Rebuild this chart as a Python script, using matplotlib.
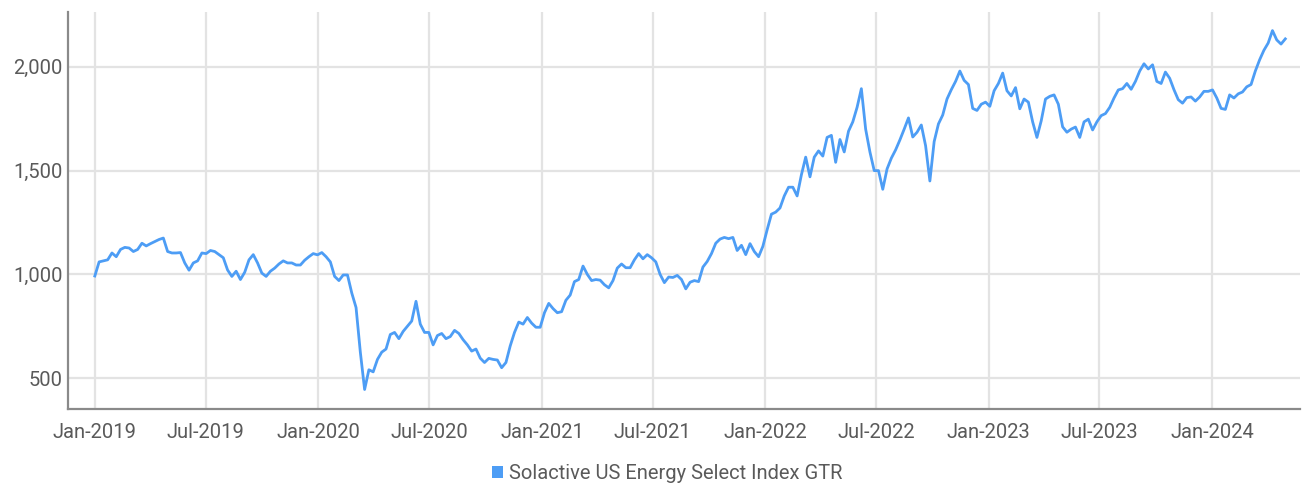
import matplotlib
matplotlib.use("Agg")
import matplotlib.pyplot as plt
import matplotlib.dates as mdates
from matplotlib.patches import Patch
from matplotlib.ticker import FuncFormatter
import pandas as pd

series_name = "Solactive US Energy Select Index GTR"
start_date = "2019-01-01"
values = [
    992, 1060, 1065, 1070, 1103, 1085, 1120, 1130, 1127, 1110,
    1120, 1150, 1137, 1148, 1158, 1168, 1175, 1110, 1103, 1103,
    1105, 1055, 1020, 1055, 1065, 1103, 1100, 1115, 1110, 1095,
    1080, 1021, 990, 1015, 975, 1010, 1070, 1095, 1055, 1006,
    990, 1015, 1030, 1050, 1065, 1055, 1055, 1045, 1045, 1068,
    1085, 1100, 1094, 1105, 1085, 1060, 990, 970, 997, 997,
    910, 840, 625, 445, 540, 530, 590, 625, 640, 710,
    720, 690, 725, 750, 775, 870, 760, 720, 720, 660,
    705, 715, 690, 700, 730, 715, 685, 660, 630, 640,
    596, 575, 595, 590, 587, 550, 575, 655, 720, 770,
    760, 792, 765, 745, 745, 815, 860, 835, 815, 820,
    875, 900, 965, 975, 1040, 1000, 970, 975, 972, 950,
    935, 970, 1030, 1050, 1032, 1032, 1070, 1100, 1075, 1095,
    1080, 1060, 1000, 960, 987, 985, 995, 975, 930, 962,
    970, 965, 1035, 1062, 1100, 1150, 1170, 1178, 1172, 1178,
    1115, 1140, 1095, 1148, 1110, 1085, 1135, 1215, 1290, 1300,
    1320, 1378, 1420, 1420, 1378, 1480, 1565, 1470, 1565, 1595,
    1570, 1660, 1670, 1540, 1650, 1590, 1690, 1735, 1805, 1895,
    1700, 1590, 1500, 1500, 1410, 1508, 1560, 1600, 1648, 1700,
    1754, 1662, 1685, 1720, 1620, 1450, 1640, 1725, 1768, 1845,
    1890, 1930, 1980, 1935, 1915, 1800, 1790, 1820, 1830, 1810,
    1885, 1920, 1970, 1885, 1860, 1900, 1798, 1845, 1830, 1735,
    1660, 1740, 1845, 1858, 1865, 1820, 1711, 1685, 1700, 1710,
    1660, 1735, 1748, 1696, 1735, 1765, 1775, 1805, 1850, 1889,
    1895, 1920, 1892, 1930, 1980, 2015, 1990, 2010, 1930, 1920,
    1975, 1945, 1890, 1842, 1825, 1852, 1855, 1835, 1855, 1882,
    1882, 1889, 1850, 1800, 1795, 1865, 1850, 1870, 1879, 1904,
    1915, 1980, 2034, 2080, 2115, 2175, 2130, 2110, 2135,
]
y_ticks = [500, 1000, 1500, 2000]
x_tick_dates = ["2019-01-01", "2019-07-01", "2020-01-01", "2020-07-01", "2021-01-01",
                "2021-07-01", "2022-01-01", "2022-07-01", "2023-01-01", "2023-07-01",
                "2024-01-01"]

dates = pd.date_range(start_date, periods=len(values), freq="7D")

plt.rcParams['font.family'] = ['Roboto', 'DejaVu Sans']
line_color = "#4d9df5"
text_color = "#5a5a5a"
fs = 14.5

fig = plt.figure(figsize=(13.06, 4.96), dpi=100)
ax = fig.add_axes([0.052, 0.175, 0.9434, 0.801])
ax.plot(dates, values, color=line_color, linewidth=2.0, zorder=3)

ax.set_xlim(pd.Timestamp("2018-11-18"), pd.Timestamp("2024-05-24"))
ax.set_ylim(350, 2265)
ax.set_yticks(y_ticks)
ax.yaxis.set_major_formatter(FuncFormatter(lambda v, p: f"{int(v):,}"))
ax.set_xticks([pd.Timestamp(d) for d in x_tick_dates])
ax.xaxis.set_major_formatter(mdates.DateFormatter("%b-%Y"))

ax.grid(True, color="#e3e3e3", linewidth=1.6, zorder=0)
ax.set_axisbelow(True)
for s in ["top", "right"]:
    ax.spines[s].set_visible(False)
for s in ["left", "bottom"]:
    ax.spines[s].set_color("#8a8a8a")
    ax.spines[s].set_linewidth(1.6)
ax.tick_params(axis="both", length=0, labelsize=fs, labelcolor=text_color)
ax.tick_params(axis="x", pad=10)
ax.tick_params(axis="y", pad=4)

handle = Patch(facecolor=line_color, edgecolor="none")
leg = fig.legend([handle], [series_name], loc="lower center", bbox_to_anchor=(0.511, -0.01),
                 frameon=False, fontsize=fs, handlelength=0.55, handleheight=0.55,
                 handletextpad=0.3, labelcolor=text_color)

fig.savefig("out.png", dpi=100)
